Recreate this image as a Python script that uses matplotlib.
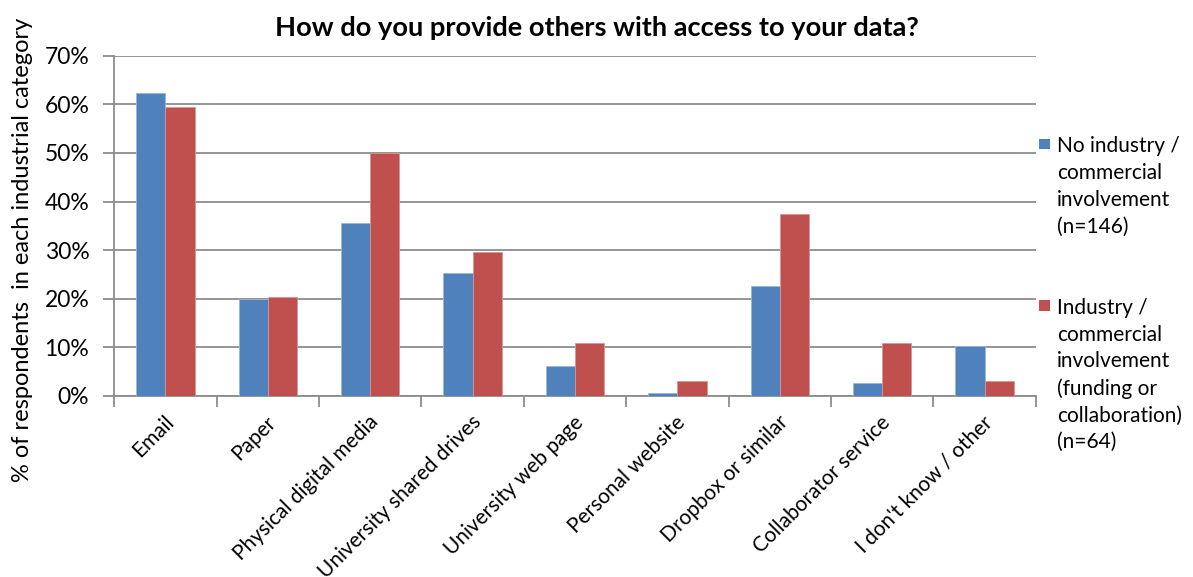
import matplotlib
matplotlib.use("Agg")
import matplotlib.pyplot as plt
import numpy as np
from matplotlib.transforms import ScaledTranslation
from matplotlib.legend_handler import HandlerPatch
from matplotlib.patches import Rectangle

plt.rcParams['font.family'] = ['Lato', 'DejaVu Sans']

categories = ["Email", "Paper", "Physical digital media", "University shared drives",
              "University web page", "Personal website", "Dropbox or similar",
              "Collaborator service", "I don't know / other"]
no_industry = [62.3, 19.9, 35.6, 25.3, 6.2, 0.7, 22.6, 2.7, 10.3]
industry = [59.4, 20.3, 50.0, 29.7, 10.9, 3.1, 37.5, 10.9, 3.1]
series_labels = ["No industry /\ncommercial\ninvolvement\n(n=146)",
                 "Industry /\ncommercial\ninvolvement\n(funding or\ncollaboration)\n(n=64)"]
yticks = [0, 10, 20, 30, 40, 50, 60, 70]
title = "How do you provide others with access to your data?"
ylabel = "% of respondents  in each industrial category"

blue = "#4F81BD"
red = "#C0504D"
grid_c = "#8C8C8C"

LEG_FS = 15
LINE_PT = 19.6  # legend line spacing in points


class TopHandler(HandlerPatch):
    """Square marker aligned with the first line of a multi-line label."""
    def create_artists(self, legend, orig_handle, xdescent, ydescent, width,
                       height, fontsize, trans):
        nlines = legend_label_lines.get(orig_handle, 1)
        shift = (nlines - 1) / 2 * LINE_PT + 1.5
        size = 7.5
        p = Rectangle((-xdescent + (width - size) / 2,
                       -ydescent + (height - size) / 2 + shift),
                      size, size, facecolor=orig_handle.get_facecolor(),
                      edgecolor='none', transform=trans)
        return [p]


fig = plt.figure(figsize=(11.93, 5.77), dpi=100)
ax = fig.add_axes([0.0958, 0.3137, 0.8682 - 0.0958, 0.9035 - 0.3137])

x = np.arange(len(categories))
w = 0.285
ax.bar(x - w / 2, no_industry, w, color=blue, edgecolor="#9DB7DA", linewidth=0.6,
       label=series_labels[0], zorder=3)
ax.bar(x + w / 2, industry, w, color=red, edgecolor="#D99694", linewidth=0.6,
       label=series_labels[1], zorder=3)

ax.set_xlim(-0.5, len(categories) - 0.5)
ax.set_ylim(0, 70)
ax.set_yticks(yticks)
ax.set_yticklabels([f"{t}%" for t in yticks], fontsize=16.5)
ax.yaxis.grid(True, color=grid_c, linewidth=1.3, zorder=0)
ax.set_axisbelow(True)

ax.set_xticks(np.arange(len(categories) + 1) - 0.5)
ax.set_xticklabels([])
ax.tick_params(axis='x', length=8, color=grid_c, width=1.3, direction='out')
ax.tick_params(axis='y', length=8, color=grid_c, width=1.3, direction='out', pad=10)

offset = ScaledTranslation(-2 / 100, -16 / 100, fig.dpi_scale_trans)
for i, c in enumerate(categories):
    ax.text(i, 0, c, rotation=45, ha='right', va='top', rotation_mode='anchor',
            fontsize=15, transform=ax.get_xaxis_transform() + offset)

for s in ['top', 'right']:
    ax.spines[s].set_visible(False)
for s in ['left', 'bottom']:
    ax.spines[s].set_color(grid_c)
    ax.spines[s].set_linewidth(1.3)

fig.text(0.5, 0.951, title, fontsize=19.6, fontweight='bold', ha='center', va='center')
fig.text(0.0185, 0.567, ylabel, rotation=90, ha='center', va='center', fontsize=17)

h1 = Rectangle((0, 0), 1, 1, facecolor=blue)
h2 = Rectangle((0, 0), 1, 1, facecolor=red)
legend_label_lines = {h1: series_labels[0].count("\n") + 1,
                      h2: series_labels[1].count("\n") + 1}
leg = ax.legend([h1, h2], series_labels, loc='upper left',
                bbox_to_anchor=(0.989, 0.80), frameon=False,
                fontsize=LEG_FS, handlelength=0.6, handleheight=0.6, handletextpad=0.3,
                labelspacing=2.95, borderaxespad=0.2,
                handler_map={h1: TopHandler(), h2: TopHandler()})
for t in leg.get_texts():
    t.set_linespacing(1.42)

fig.savefig("out.png", dpi=100)
